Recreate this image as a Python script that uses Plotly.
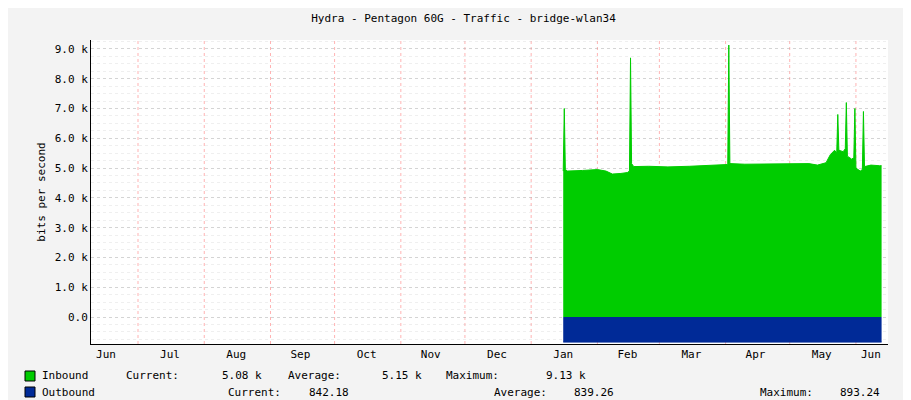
import plotly.graph_objects as go

in_dates = ["2024-01-16","2024-01-16 12:00","2024-01-17","2024-01-18","2024-01-25","2024-02-01","2024-02-05","2024-02-08","2024-02-12","2024-02-15",
            "2024-02-16","2024-02-16 12:00","2024-02-17","2024-02-18","2024-02-25","2024-03-05","2024-03-15","2024-03-25","2024-04-01",
            "2024-04-02","2024-04-02 12:00","2024-04-03","2024-04-10","2024-04-20","2024-05-01","2024-05-10","2024-05-14","2024-05-18",
            "2024-05-20","2024-05-22","2024-05-23","2024-05-23 12:00","2024-05-24","2024-05-26","2024-05-27","2024-05-27 12:00","2024-05-28",
            "2024-05-30","2024-05-31","2024-05-31 12:00","2024-06-01","2024-06-03","2024-06-04","2024-06-04 12:00","2024-06-05","2024-06-08","2024-06-12","2024-06-13"]
in_vals = [4900,7000,4950,4900,4920,4950,4900,4800,4820,4850,
           4900,8700,5150,5050,5060,5040,5060,5080,5100,
           5120,9130,5150,5130,5140,5160,5150,5100,5180,
           5450,5600,5500,6800,5600,5550,5650,7200,5400,
           5300,5350,7000,5000,4900,4950,6900,5050,5100,5080,5080]
out_dates = ["2024-01-16","2024-06-13"]
out_vals = [-842,-842]
month_starts = ["2023-07-01","2023-08-01","2023-09-01","2023-10-01","2023-11-01","2023-12-01",
                "2024-01-01","2024-02-01","2024-03-01","2024-04-01","2024-05-01","2024-06-01"]
month_mids = ["2023-06-16","2023-07-16","2023-08-16","2023-09-15","2023-10-16","2023-11-15","2023-12-16",
              "2024-01-16","2024-02-15","2024-03-16","2024-04-15","2024-05-16","2024-06-08"]
month_labels = ["Jun","Jul","Aug","Sep","Oct","Nov","Dec","Jan","Feb","Mar","Apr","May","Jun"]
y_ticks = [0,1000,2000,3000,4000,5000,6000,7000,8000,9000]
y_labels = ["0.0","1.0 k","2.0 k","3.0 k","4.0 k","5.0 k","6.0 k","7.0 k","8.0 k","9.0 k"]

F = "DejaVu Sans Mono"
S = 11
fig = go.Figure()
fig.add_trace(go.Scatter(x=in_dates, y=in_vals, fill="tozeroy", mode="lines",
                         line=dict(color="#00cc00", width=1), fillcolor="#00cc00"))
fig.add_trace(go.Scatter(x=out_dates, y=out_vals, fill="tozeroy", mode="lines",
                         line=dict(color="#002a97", width=1), fillcolor="#002a97"))
for m in month_starts:
    fig.add_vline(x=m, line=dict(color="rgba(255,0,0,0.3)", width=1, dash="dot"), layer="below")
fig.update_layout(
    width=911, height=400, showlegend=False,
    paper_bgcolor="#f3f3f3", plot_bgcolor="#ffffff",
    margin=dict(l=83, r=31, t=32, b=64),
    font=dict(family=F, size=S, color="#000"),
    title=dict(text="Hydra - Pentagon 60G - Traffic - bridge-wlan34", x=0.5, y=0.985,
               xanchor="center", yanchor="top", font=dict(family=F, size=S)),
    xaxis=dict(range=["2023-06-09","2024-06-16"], tickvals=month_mids, ticktext=month_labels,
               showgrid=False, ticks="", showline=True, linecolor="#000", automargin=False,
               tickfont=dict(family=F, size=S)),
    yaxis=dict(range=[-906, 9300], tickvals=y_ticks, ticktext=y_labels, ticks="",
               gridcolor="rgba(150,150,150,0.3)", griddash="dot", zeroline=False,
               showline=True, linecolor="#000", automargin=False,
               minor=dict(dtick=250, showgrid=True, gridcolor="rgba(190,190,190,0.25)", griddash="dot"),
               title=dict(text="bits per second", font=dict(family=F, size=S), standoff=6)),
)
def px(x): return (x - 83) / 797
def py(y): return (336 - y) / 304
rows = [
    (368, "#00cc00", [(32, "Inbound"), (116, "Current:"), (212, "5.08 k"), (278, "Average:"), (372, "5.15 k"),
                      (436, "Maximum:"), (536, "9.13 k")]),
    (384, "#002a97", [(32, "Outbound"), (218, "Current:"), (299, "842.18"), (484, "Average:"), (564, "839.26"),
                      (750, "Maximum:"), (830, "893.24")]),
]
for y, c, items in rows:
    fig.add_shape(type="rect", xref="paper", yref="paper", x0=px(17), x1=px(27),
                  y0=py(y + 5), y1=py(y - 5), fillcolor=c, line=dict(color="#000", width=1))
    for x, t in items:
        fig.add_annotation(text=t, xref="paper", yref="paper", x=px(x), y=py(y),
                           xanchor="left", yanchor="middle", showarrow=False, font=dict(family=F, size=S))
fig.add_annotation(text="RRDTOOL / TOBI OETIKER", textangle=90, xref="paper", yref="paper",
                   x=px(902), y=py(60), xanchor="center", yanchor="middle",
                   showarrow=False, font=dict(family=F, size=7, color="#aaaaaa"))
fig.write_html("out.html")
